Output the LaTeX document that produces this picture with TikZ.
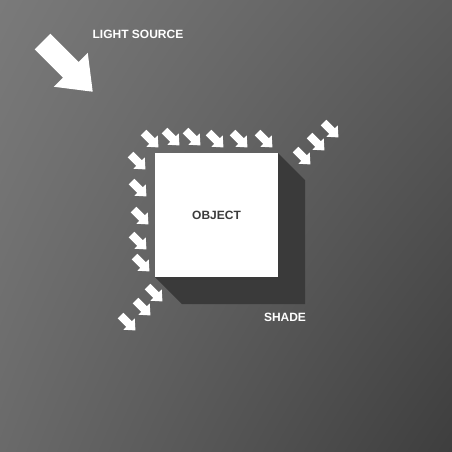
\documentclass[tikz,border=0pt]{standalone}
\usepackage{fontspec}
\setmainfont{Liberation Sans}
\usepackage{tikz}
\usetikzlibrary{shadings}
\definecolor{mygray1}{RGB}{122, 122, 122}
\definecolor{mygray2}{RGB}{92, 92, 92}
\definecolor{mygray3}{RGB}{106, 106, 106}
\definecolor{mygray4}{RGB}{62, 62, 62}
\definecolor{mygray5}{RGB}{58, 58, 58}
\definecolor{mygray6}{RGB}{60, 60, 60}
\tikzset{lighttext/.style = {text = white, inner sep = 0, font = \bfseries\fontsize{12}{14}\selectfont}}

\begin{document}
\begin{tikzpicture}[x = 1pt, y = -1pt]
\useasboundingbox (0, 0) rectangle (452, 451);
\shade[upper left = mygray1, upper right = mygray2, lower left = mygray3, lower right = mygray4] (0, 0) rectangle (452, 451);

% light source
\begin{scope}[shift = {(42.5, 41.5)}, rotate = -45]
\fill[white] (0, -11) -- (40, -11) -- (40, -24) -- (71, 0) -- (40, 24) -- (40, 11) -- (0, 11) -- cycle;
\end{scope}
\node[lighttext] (source) at (138, 34) {LIGHT SOURCE};

% shade
\fill[mygray5] (278, 153) -- (305, 180) -- (305, 304) -- (182, 304) -- (155, 277) -- cycle;
\node[lighttext] (shade) at (285, 317.5) {SHADE};

% object
\node[fill = white, minimum width = 123pt, minimum height = 124pt, inner sep = 0, text = mygray6, font = \bfseries\fontsize{12}{14}\selectfont] (object) at (216.5, 215) {OBJECT};

% rays
\foreach \x/\y in {151/140, 172/138, 193/138, 216/140, 240/140, 265/140, 138/162, 139/189, 141/217, 139/242, 142/264, 155/294, 143/308, 128/323, 303/157, 317/143, 331/130}
{
\begin{scope}[shift = {(\x, \y)}, rotate = -45]
\fill[white] (-10.5, -4) -- (1.5, -4) -- (1.5, -8) -- (10.5, 0) -- (1.5, 8) -- (1.5, 4) -- (-10.5, 4) -- cycle;
\end{scope}
}
\end{tikzpicture}
\end{document}
